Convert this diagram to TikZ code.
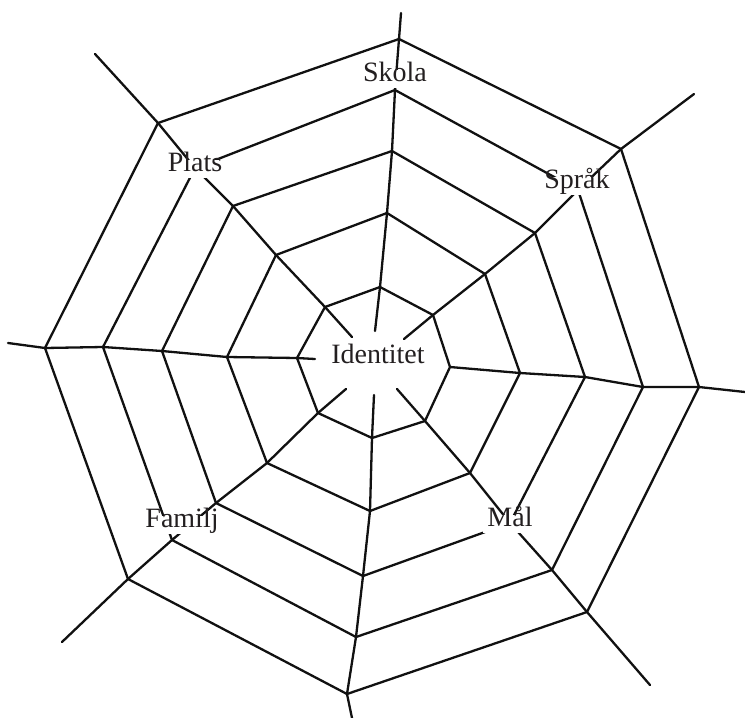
\documentclass[tikz,border=0pt]{standalone}
\usepackage{fontspec}
\setmainfont{Liberation Serif}
\definecolor{webInk}{HTML}{111111}
\definecolor{labelInk}{HTML}{231F20}
\usepackage{tikz}
\usetikzlibrary{positioning}

\begin{document}
\begin{tikzpicture}[x=1pt, y=-1pt,
  web/.style={webInk, line width=2.3pt, line join=round, line cap=round},
  lbl/.style={labelInk, fill=white, inner sep=4.5pt, text height=0.72em, text depth=0.22em,
    font=\fontsize{28}{30}\selectfont}]
\useasboundingbox (0,0) rectangle (745,718);
% spoke order: N, NE, E, SE, S, SW, W, NW
% inner ends of the spokes (they stop short of the centre label)
\foreach \x/\y [count=\i] in {375/331,404/339,450/367,397/389,374/395,346/389,315/359,352/337}
  \coordinate (in\i) at (\x,\y);
% rings, inner to outer
\foreach \x/\y [count=\i] in {380/287,433/315,450/367,425/421,372/438,318/413,297/358,325/307}
  \coordinate (r1-\i) at (\x,\y);
\foreach \x/\y [count=\i] in {387/213,485/274,520/373,470/473,370/511,267/463,227/357,276/255}
  \coordinate (r2-\i) at (\x,\y);
\foreach \x/\y [count=\i] in {392/151,535/233,585/377,510/523,363/576,216/503,162/351,233/206}
  \coordinate (r3-\i) at (\x,\y);
\foreach \x/\y [count=\i] in {395/90,578/190,643/387,552/570,356/637,172/540,103/347,195/168}
  \coordinate (r4-\i) at (\x,\y);
\foreach \x/\y [count=\i] in {399/39,621/149,699/387,587/612,347/694,128/579,45/348,158/123}
  \coordinate (r5-\i) at (\x,\y);
% outer ends of the spokes
\foreach \x/\y [count=\i] in {401/13,694/94,745/392,650/685,352/718,62/642,8/343,95/54}
  \coordinate (out\i) at (\x,\y);

% the rings
\foreach \r in {1,...,5}
  \draw[web] (r\r-1) -- (r\r-2) -- (r\r-3) -- (r\r-4) -- (r\r-5) -- (r\r-6) -- (r\r-7) -- (r\r-8) -- cycle;
% the spokes
\foreach \i in {1,...,8}
  \draw[web] (in\i) -- (r1-\i) -- (r2-\i) -- (r3-\i) -- (r4-\i) -- (r5-\i) -- (out\i);

% labels knock out the web behind them
\node[lbl] (identitet) at (378,361) {Identitet};
\node[lbl] (skola) at (395,79) {Skola};
\node[lbl] (sprak) at (577,186) {Språk};
\node[lbl] (mal) at (510,524) {Mål};
\node[lbl] (familj) at (182,525) {Familj};
\node[lbl] (plats) at (195,169) {Plats};
\end{tikzpicture}
\end{document}
